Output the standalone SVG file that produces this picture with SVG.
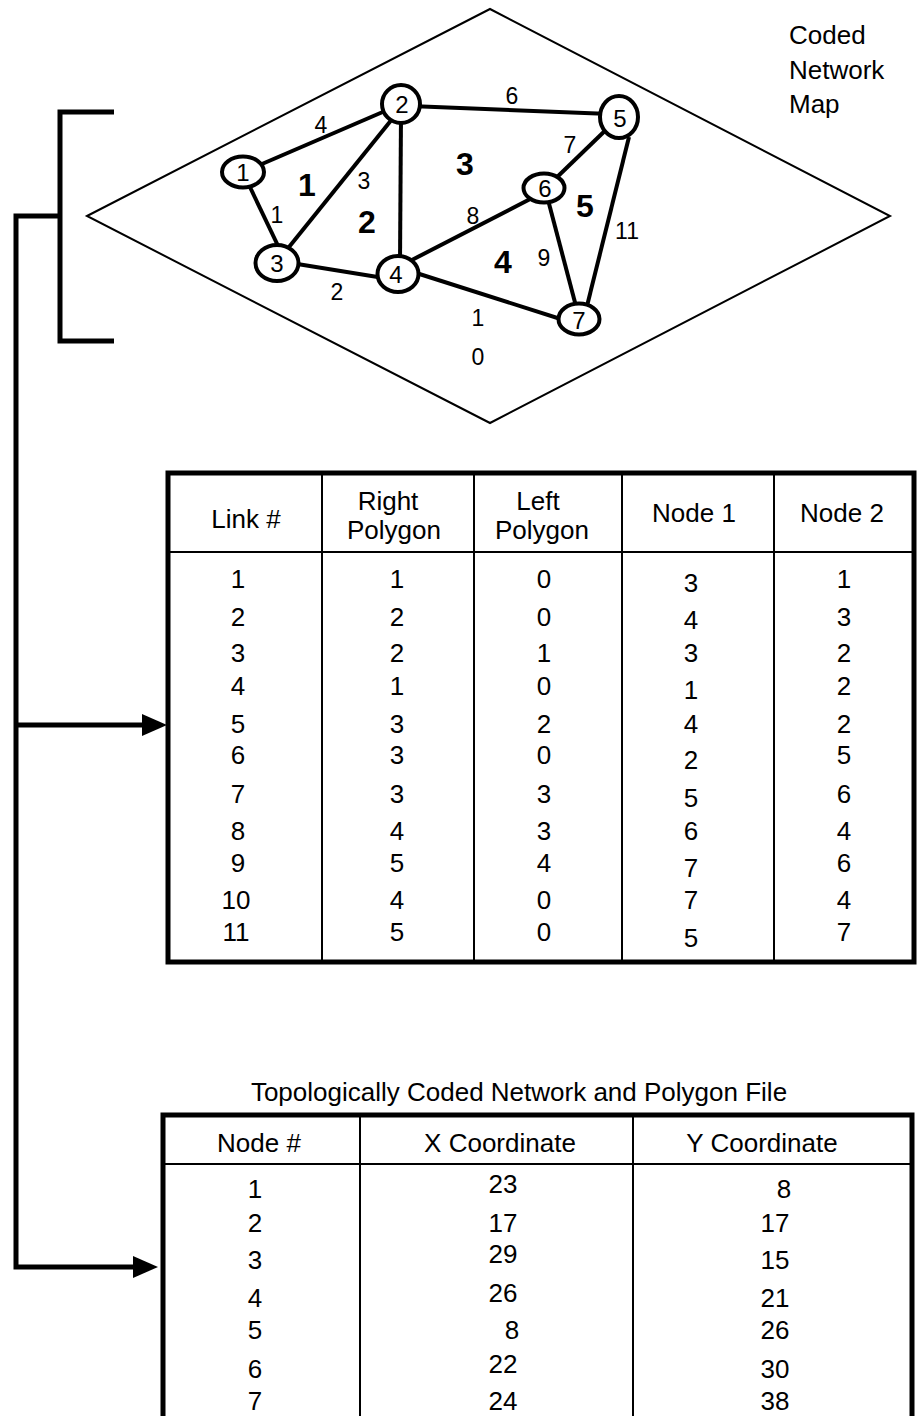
<svg xmlns="http://www.w3.org/2000/svg" width="917" height="1416" viewBox="0 0 917 1416">
<style>
text{font-family:"Liberation Sans",Arial,sans-serif;fill:#000}
.t{font-size:26px;text-anchor:middle}
.lbl{font-size:23px;text-anchor:middle}
.nl{font-size:24px;text-anchor:middle}
.poly{font-size:32px;font-weight:bold;text-anchor:middle}
.edge{stroke:#000;stroke-width:4;fill:none;stroke-linecap:butt}
.node{fill:#fff;stroke:#000;stroke-width:4}
.conn{stroke:#000;stroke-width:5;fill:none;stroke-linejoin:miter}
.thin{stroke:#000;stroke-width:2;fill:none}
.frame{stroke:#000;stroke-width:5;fill:none}
</style>
<defs>
<marker id="ah" markerUnits="userSpaceOnUse" markerWidth="26" markerHeight="22" refX="0" refY="11" orient="auto">
<path d="M0,0 L25,11 L0,22 z" fill="#000"/>
</marker>
</defs>
<rect width="917" height="1416" fill="#fff"/>

<g id="map">
<polygon points="87,216 490,9 890,216 490,423" fill="none" stroke="#000" stroke-width="2"/>
<g id="links">
<line class="edge" x1="255" y1="167" x2="392" y2="108"/>
<line class="edge" x1="248" y1="183" x2="281" y2="252"/>
<line class="edge" x1="285" y1="252" x2="397" y2="113"/>
<line class="edge" x1="401" y1="115" x2="400" y2="264"/>
<line class="edge" x1="285" y1="262" x2="390" y2="279"/>
<line class="edge" x1="410" y1="106" x2="610" y2="114"/>
<line class="edge" x1="612" y1="124" x2="553" y2="181"/>
<line class="edge" x1="408" y1="262" x2="536" y2="196"/>
<line class="edge" x1="547" y1="196" x2="577" y2="310"/>
<line class="edge" x1="629" y1="137" x2="586" y2="310"/>
<line class="edge" x1="410" y1="271" x2="570" y2="322"/>
</g>
<g id="node1"><ellipse class="node" cx="243" cy="172" rx="21" ry="15.5"/><text class="nl" x="243" y="181">1</text></g>
<g id="node2"><ellipse class="node" cx="401" cy="104" rx="19" ry="19"/><text class="nl" x="402" y="113">2</text></g>
<g id="node3"><ellipse class="node" cx="277" cy="263" rx="21.5" ry="18"/><text class="nl" x="277" y="272">3</text></g>
<g id="node4"><ellipse class="node" cx="398" cy="274" rx="20.5" ry="18"/><text class="nl" x="396" y="283">4</text></g>
<g id="node5"><ellipse class="node" cx="619" cy="117" rx="19" ry="21"/><text class="nl" x="620" y="127">5</text></g>
<g id="node6"><ellipse class="node" cx="544" cy="188" rx="20.5" ry="14.5"/><text class="nl" x="545" y="197">6</text></g>
<g id="node7"><ellipse class="node" cx="579" cy="319" rx="20.5" ry="15.5"/><text class="nl" x="579" y="329">7</text></g>
<g id="link-labels">
<text class="lbl" x="321" y="133">4</text>
<text class="lbl" x="277" y="223">1</text>
<text class="lbl" x="364" y="189">3</text>
<text class="lbl" x="337" y="300">2</text>
<text class="lbl" x="473" y="224">8</text>
<text class="lbl" x="512" y="104">6</text>
<text class="lbl" x="570" y="153">7</text>
<text class="lbl" x="544" y="266">9</text>
<text class="lbl" x="627" y="239">11</text>
<text class="lbl" x="478" y="326">1</text>
<text class="lbl" x="478" y="365">0</text>
</g>
<g id="polygon-labels">
<text class="poly" x="307" y="196">1</text>
<text class="poly" x="367" y="233">2</text>
<text class="poly" x="465" y="175">3</text>
<text class="poly" x="503" y="273">4</text>
<text class="poly" x="585" y="217">5</text>
</g>
<g id="map-title">
<text x="789" y="44" font-size="26">Coded</text>
<text x="789" y="79" font-size="26">Network</text>
<text x="789" y="113" font-size="26">Map</text>
</g>
</g>

<g id="connectors">
<path class="conn" d="M114,112 H60 V341 H114"/>
<path class="conn" d="M60,216 H16 V1267 H133" marker-end="url(#ah)"/>
<path class="conn" d="M16,725 H142" marker-end="url(#ah)"/>
</g>

<g id="link-table">
<rect class="frame" x="168" y="473" width="746" height="489"/>
<line class="thin" x1="168" y1="552" x2="914" y2="552"/>
<line class="thin" x1="322" y1="473" x2="322" y2="962"/>
<line class="thin" x1="474" y1="473" x2="474" y2="962"/>
<line class="thin" x1="622" y1="473" x2="622" y2="962"/>
<line class="thin" x1="774" y1="473" x2="774" y2="962"/>
<text class="t" x="246" y="528">Link #</text>
<text class="t" x="388" y="510">Right</text>
<text class="t" x="394" y="539">Polygon</text>
<text class="t" x="538" y="510">Left</text>
<text class="t" x="542" y="539">Polygon</text>
<text class="t" x="694" y="522">Node 1</text>
<text class="t" x="842" y="522">Node 2</text>
<g id="col-link">
<text class="t" x="238" y="588">1</text>
<text class="t" x="238" y="626">2</text>
<text class="t" x="238" y="662">3</text>
<text class="t" x="238" y="695">4</text>
<text class="t" x="238" y="733">5</text>
<text class="t" x="238" y="764">6</text>
<text class="t" x="238" y="803">7</text>
<text class="t" x="238" y="840">8</text>
<text class="t" x="238" y="872">9</text>
<text class="t" x="236" y="909">10</text>
<text class="t" x="236" y="941">11</text>
</g>
<g id="col-right">
<text class="t" x="397" y="588">1</text>
<text class="t" x="397" y="626">2</text>
<text class="t" x="397" y="662">2</text>
<text class="t" x="397" y="695">1</text>
<text class="t" x="397" y="733">3</text>
<text class="t" x="397" y="764">3</text>
<text class="t" x="397" y="803">3</text>
<text class="t" x="397" y="840">4</text>
<text class="t" x="397" y="872">5</text>
<text class="t" x="397" y="909">4</text>
<text class="t" x="397" y="941">5</text>
</g>
<g id="col-left">
<text class="t" x="544" y="588">0</text>
<text class="t" x="544" y="626">0</text>
<text class="t" x="544" y="662">1</text>
<text class="t" x="544" y="695">0</text>
<text class="t" x="544" y="733">2</text>
<text class="t" x="544" y="764">0</text>
<text class="t" x="544" y="803">3</text>
<text class="t" x="544" y="840">3</text>
<text class="t" x="544" y="872">4</text>
<text class="t" x="544" y="909">0</text>
<text class="t" x="544" y="941">0</text>
</g>
<g id="col-node1">
<text class="t" x="691" y="592">3</text>
<text class="t" x="691" y="629">4</text>
<text class="t" x="691" y="662">3</text>
<text class="t" x="691" y="699">1</text>
<text class="t" x="691" y="733">4</text>
<text class="t" x="691" y="769">2</text>
<text class="t" x="691" y="807">5</text>
<text class="t" x="691" y="840">6</text>
<text class="t" x="691" y="877">7</text>
<text class="t" x="691" y="909">7</text>
<text class="t" x="691" y="947">5</text>
</g>
<g id="col-node2">
<text class="t" x="844" y="588">1</text>
<text class="t" x="844" y="626">3</text>
<text class="t" x="844" y="662">2</text>
<text class="t" x="844" y="695">2</text>
<text class="t" x="844" y="733">2</text>
<text class="t" x="844" y="764">5</text>
<text class="t" x="844" y="803">6</text>
<text class="t" x="844" y="840">4</text>
<text class="t" x="844" y="872">6</text>
<text class="t" x="844" y="909">4</text>
<text class="t" x="844" y="941">7</text>
</g>
</g>

<text id="file-title" class="t" x="519" y="1101">Topologically Coded Network and Polygon File</text>

<g id="node-table">
<rect class="frame" x="163" y="1115" width="749" height="330"/>
<line class="thin" x1="163" y1="1164" x2="912" y2="1164"/>
<line class="thin" x1="360" y1="1115" x2="360" y2="1420"/>
<line class="thin" x1="633" y1="1115" x2="633" y2="1420"/>
<text class="t" x="259" y="1152">Node #</text>
<text class="t" x="500" y="1152">X Coordinate</text>
<text class="t" x="762" y="1152">Y Coordinate</text>
<g id="col-node">
<text class="t" x="255" y="1198">1</text>
<text class="t" x="255" y="1232">2</text>
<text class="t" x="255" y="1269">3</text>
<text class="t" x="255" y="1307">4</text>
<text class="t" x="255" y="1339">5</text>
<text class="t" x="255" y="1378">6</text>
<text class="t" x="255" y="1410">7</text>
</g>
<g id="col-x">
<text class="t" x="503" y="1193">23</text>
<text class="t" x="503" y="1232">17</text>
<text class="t" x="503" y="1263">29</text>
<text class="t" x="503" y="1302">26</text>
<text class="t" x="512" y="1339">8</text>
<text class="t" x="503" y="1373">22</text>
<text class="t" x="503" y="1410">24</text>
</g>
<g id="col-y">
<text class="t" x="784" y="1198">8</text>
<text class="t" x="775" y="1232">17</text>
<text class="t" x="775" y="1269">15</text>
<text class="t" x="775" y="1307">21</text>
<text class="t" x="775" y="1339">26</text>
<text class="t" x="775" y="1378">30</text>
<text class="t" x="775" y="1410">38</text>
</g>
</g>
</svg>
